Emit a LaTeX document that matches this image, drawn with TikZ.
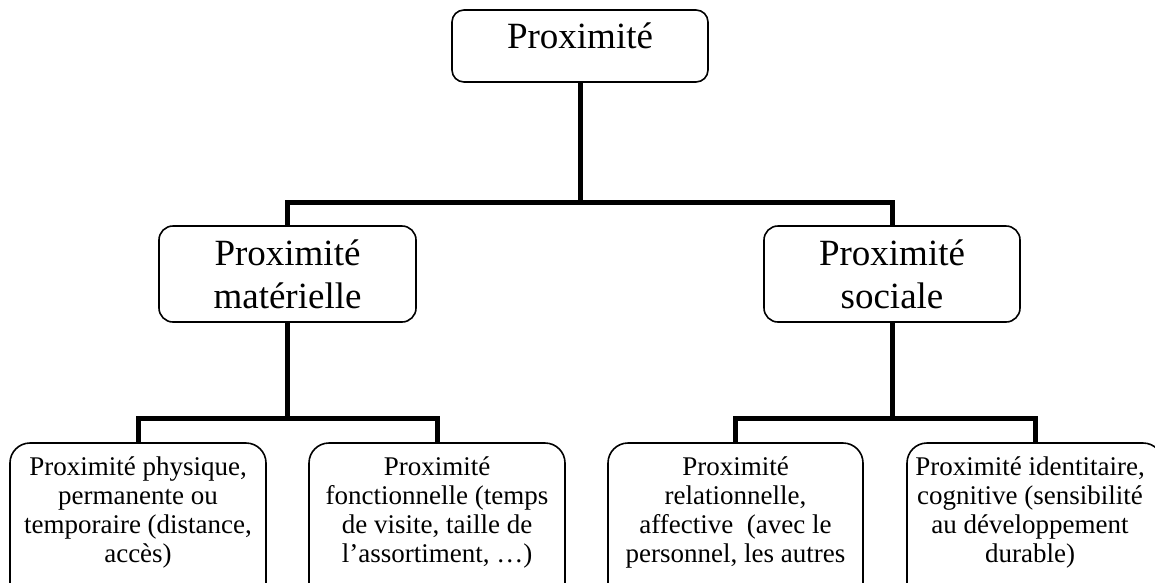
\documentclass[tikz,border=0pt]{standalone}
\usepackage{fontspec}
\setmainfont{Liberation Serif}
\begin{document}
\begin{tikzpicture}[x=1pt,y=-1pt,
  box/.style={draw=black,line width=1.6pt,fill=white,inner sep=0pt},
  conn/.style={draw=black,line width=5pt,line join=miter},
  bigtxt/.style={inner sep=0pt,align=center,anchor=base,font=\fontsize{37}{43}\selectfont},
  smalltxt/.style={inner sep=0pt,align=center,anchor=base,font=\fontsize{27}{29}\selectfont}]
\useasboundingbox (0,0) rectangle (1155,582);
\clip (0,0) rectangle (1155,582);
% boxes
\node[box,rounded corners=12pt,minimum width=256pt,minimum height=72pt] (top) at (580,46) {};
\node[box,rounded corners=14pt,minimum width=257pt,minimum height=96pt] (midL) at (287.5,274) {};
\node[box,rounded corners=14pt,minimum width=256pt,minimum height=96pt] (midR) at (892,274) {};
\node[box,rounded corners=20pt,minimum width=256pt,minimum height=177pt] (b1) at (138,531.5) {};
\node[box,rounded corners=20pt,minimum width=256pt,minimum height=177pt] (b2) at (437,531.5) {};
\node[box,rounded corners=20pt,minimum width=255pt,minimum height=177pt] (b3) at (735.5,531.5) {};
\node[box,rounded corners=20pt,minimum width=256pt,minimum height=177pt] (b4) at (1035,531.5) {};
% connectors
\coordinate (bus1) at (580,202);
\coordinate (bus2) at (287.5,418);
\coordinate (bus3) at (892,418);
\draw[conn] (top.south) -- (bus1);
\draw[conn] (midL.north) |- (bus1) -| (midR.north);
\draw[conn] (midL.south) -- (bus2);
\draw[conn] (b1.north) |- (bus2) -| (b2.north);
\draw[conn] (midR.south) -- (bus3);
\draw[conn] (b3.north) |- (bus3) -| (b4.north);
% texts (anchor base = baseline of last line)
\node[bigtxt] (topT) at (580,48) {Proximité};
\node[bigtxt] (midLT) at (287.5,308) {Proximité\\matérielle};
\node[bigtxt] (midRT) at (892,308) {Proximité\\sociale};
\node[smalltxt] (b1T) at (138,562) {Proximité physique,\\permanente ou\\temporaire (distance,\\accès)};
\node[smalltxt] (b2T) at (437,562) {Proximité\\fonctionnelle (temps\\de visite, taille de\\l’assortiment, …)};
\node[smalltxt] (b3T) at (735.5,562) {Proximité\\relationnelle,\\affective~ (avec le\\personnel, les autres};
\node[smalltxt] (b4T) at (1030,562) {Proximité identitaire,\\cognitive (sensibilité\\au développement\\durable)};
\end{tikzpicture}
\end{document}
